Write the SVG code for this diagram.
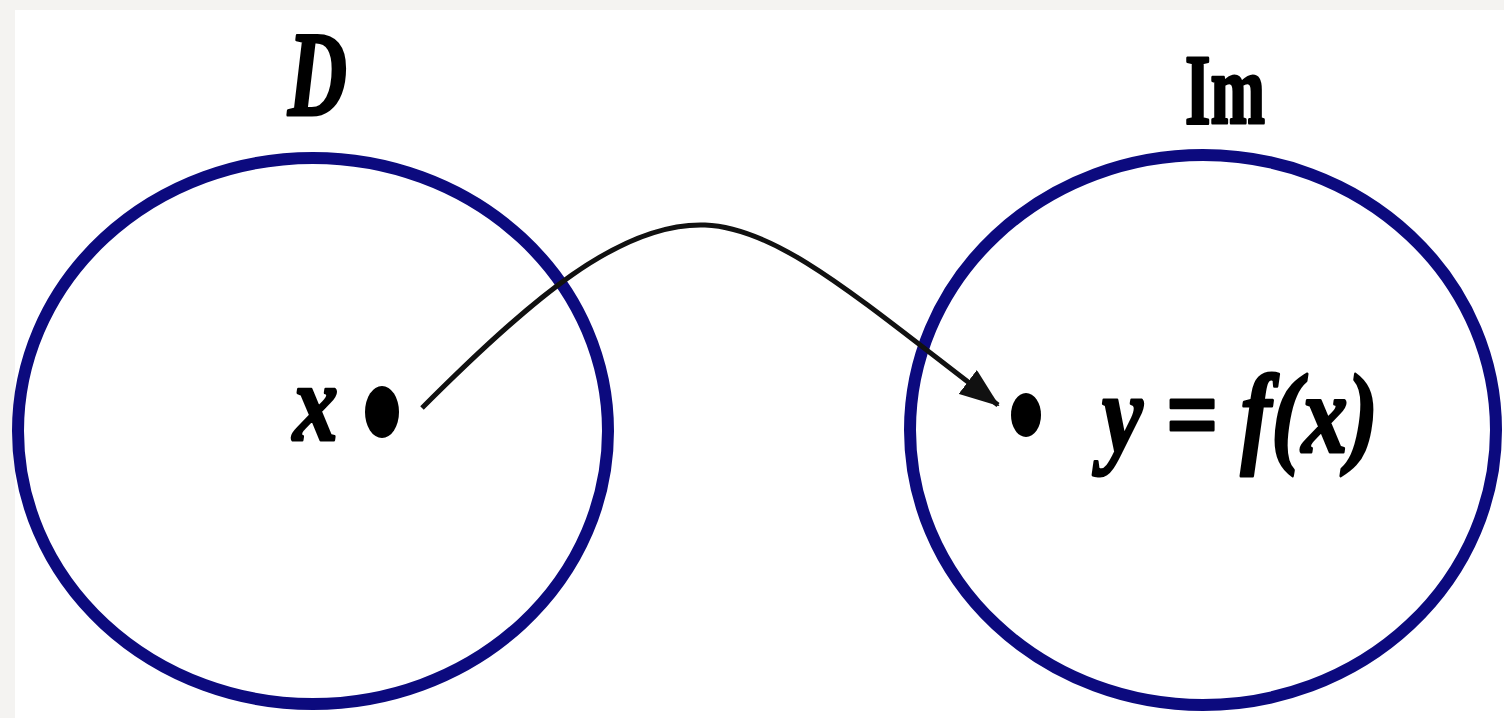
<svg xmlns="http://www.w3.org/2000/svg" width="1504" height="718" viewBox="0 0 1504 718">
<style>
.set{fill:none;stroke:#0c0a7e;stroke-width:12}
.lbl{font-family:"Liberation Serif","Times New Roman",serif;font-weight:bold;fill:#000;stroke:#000;stroke-width:3;stroke-linejoin:round}
.it{font-style:italic}
.dot{fill:#000}
.conn{fill:none;stroke:#111;stroke-width:5}
</style>
<defs>
<marker id="arr" viewBox="0 0 40 30" refX="38" refY="15" markerWidth="40" markerHeight="30" orient="auto" markerUnits="userSpaceOnUse">
<path d="M0,0 L40,15 L0,30 z" fill="#111"/>
</marker>
</defs>
<rect x="0" y="0" width="1504" height="718" fill="#f4f3f1"/>
<rect x="15" y="10" width="1489" height="708" fill="#ffffff"/>
<g id="domain">
<ellipse class="set" cx="313" cy="431" rx="295" ry="273"/>
<text class="lbl it" x="288" y="115" font-size="120" textLength="59" lengthAdjust="spacingAndGlyphs">D</text>
</g>
<g id="image">
<ellipse class="set" cx="1203" cy="430" rx="293" ry="275"/>
<text class="lbl" x="1185" y="123" font-size="100" textLength="80" lengthAdjust="spacingAndGlyphs">Im</text>
</g>
<g id="point-x">
<ellipse class="dot" cx="382" cy="412" rx="17" ry="26"/>
<text class="lbl it" x="293" y="440" font-size="110" textLength="45" lengthAdjust="spacingAndGlyphs">x</text>
</g>
<g id="point-y">
<ellipse class="dot" cx="1026" cy="415" rx="15" ry="22"/>
<text class="lbl it" x="1102" y="452" font-size="112" textLength="276" lengthAdjust="spacingAndGlyphs">y = f(x)</text>
</g>
<g id="connectors">
<path class="conn" d="M422,408 C530,300 620,222 705,225 C780,228 860,300 998,405" marker-end="url(#arr)"/>
</g>
</svg>
